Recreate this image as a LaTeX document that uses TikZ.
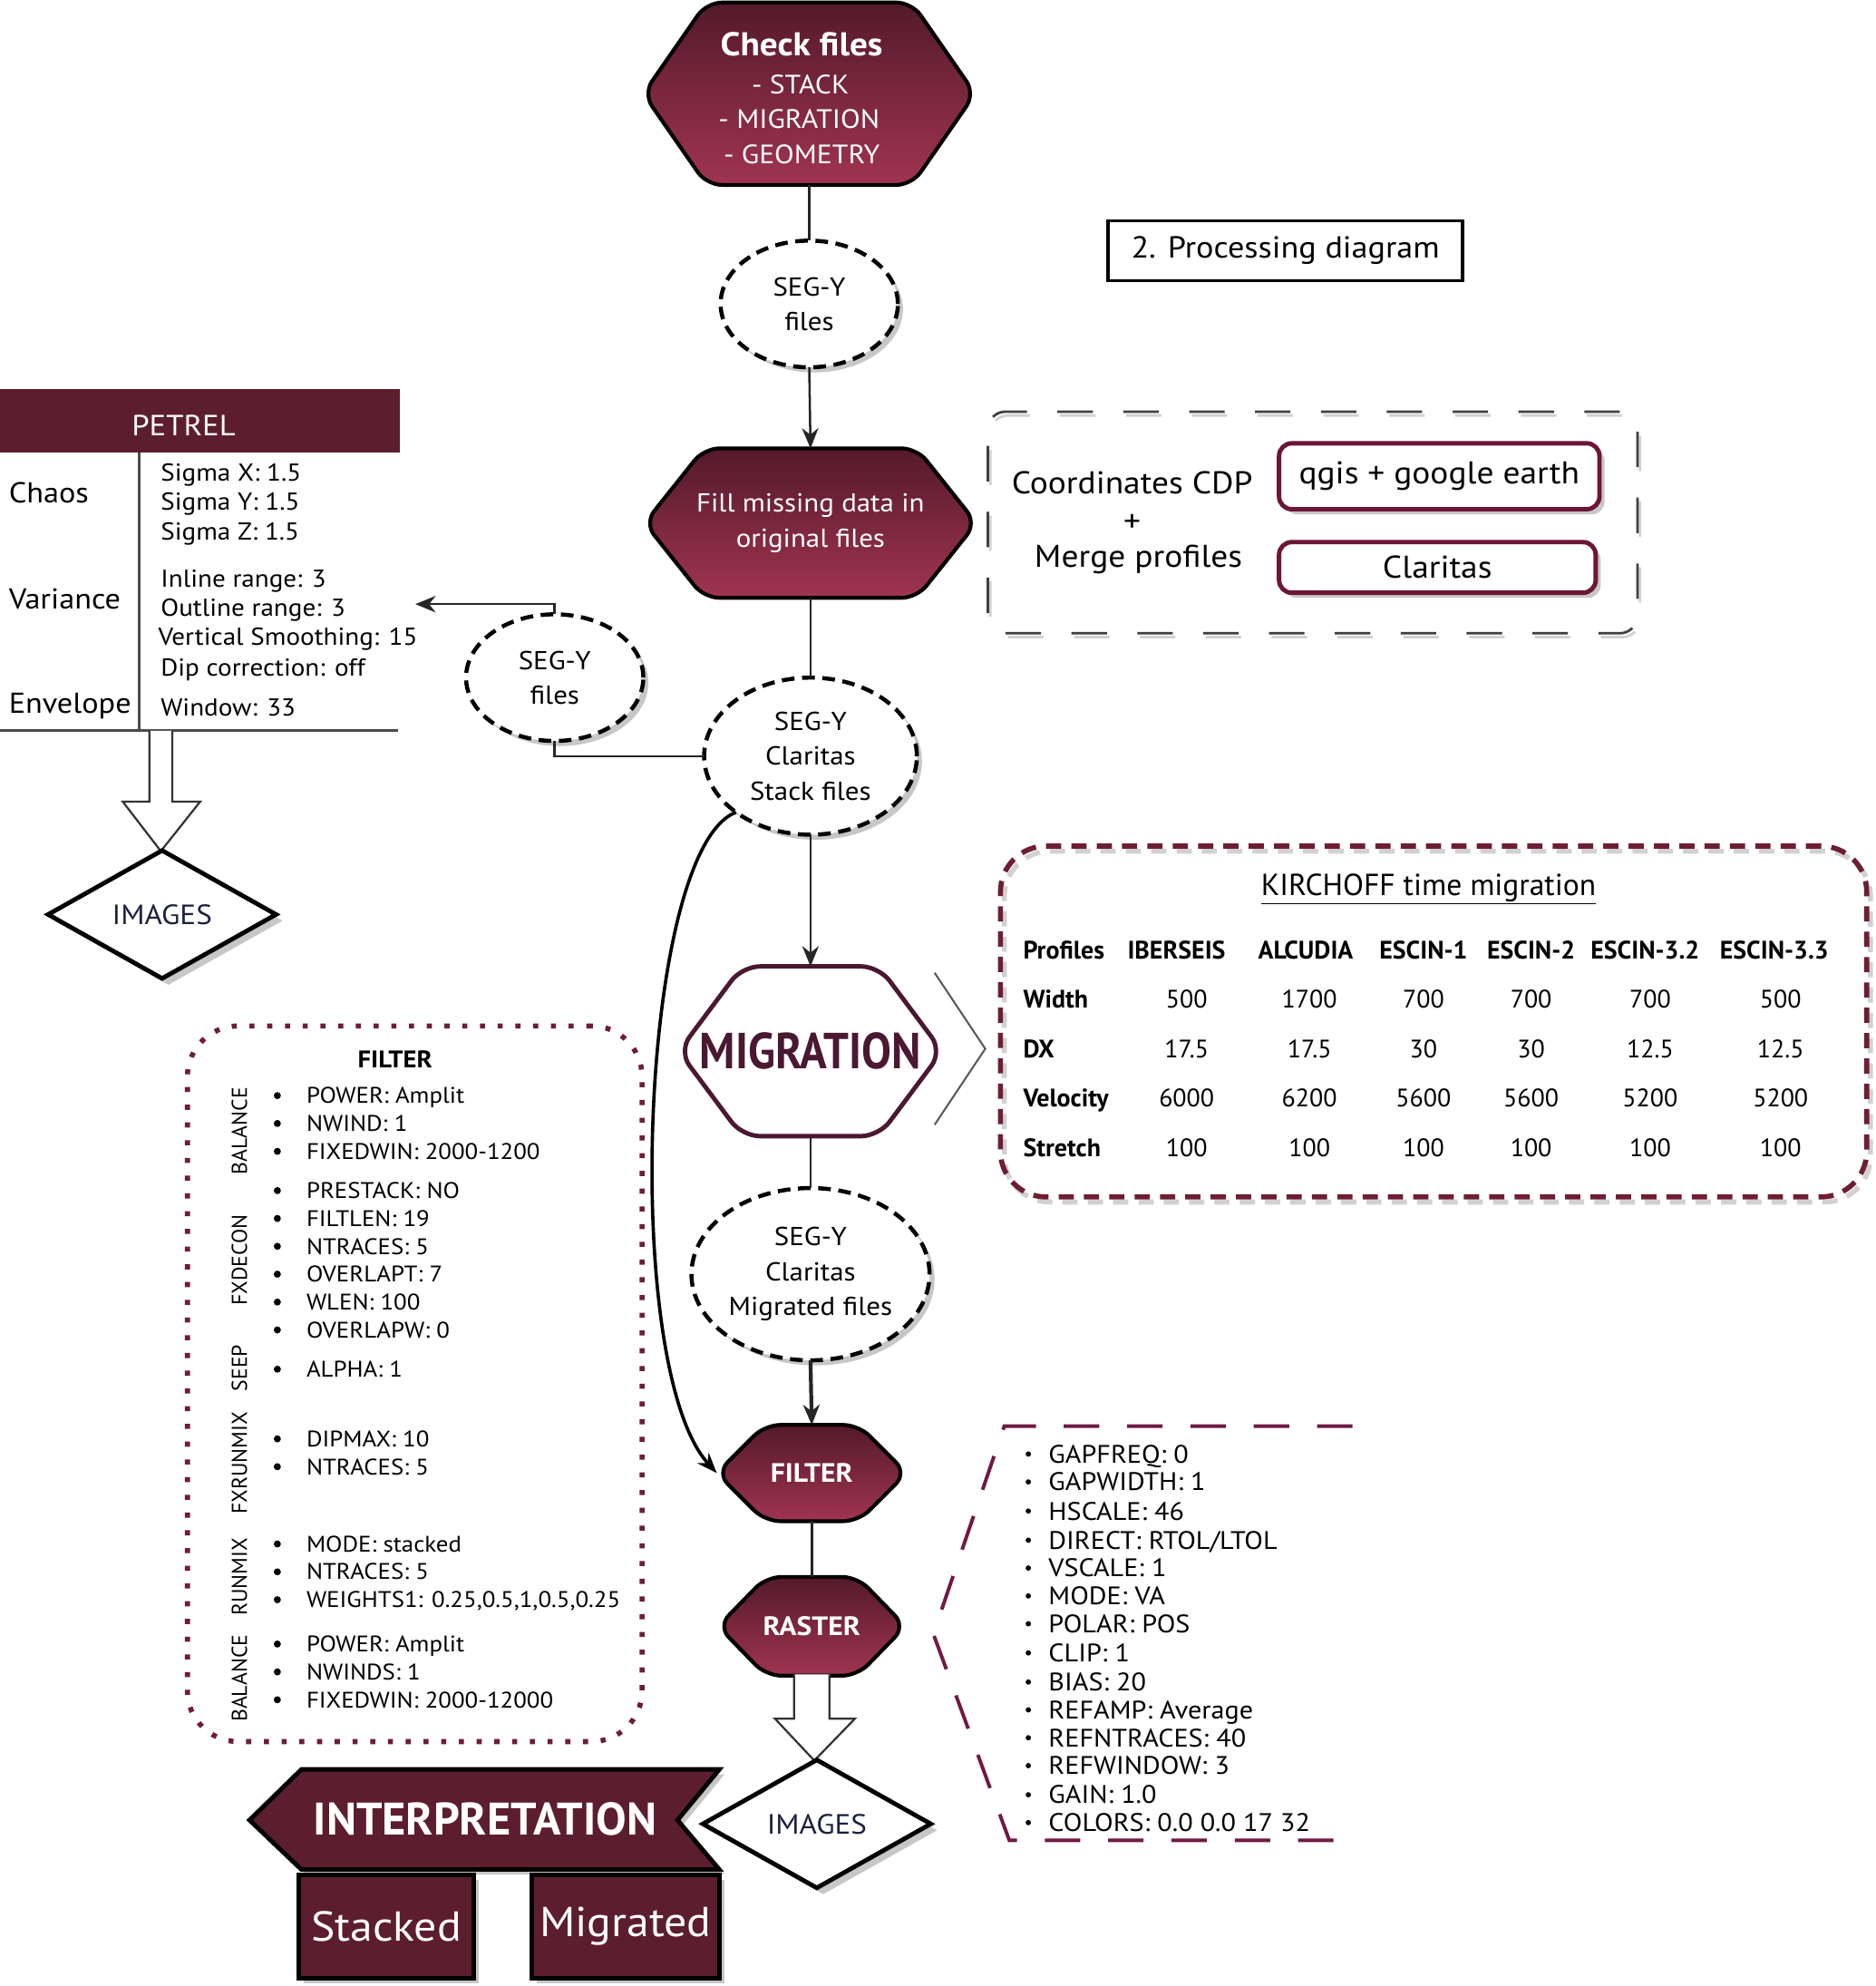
\documentclass[tikz,border=0pt]{standalone}
\usepackage{fontspec}
\setmainfont[FakeStretch=1.08]{PT Sans}
\newfontfamily\plainf{PT Sans}
\newfontfamily\condx[FakeStretch=0.88]{PT Sans}
\usetikzlibrary{shapes.geometric,arrows.meta,backgrounds,calc,shadows}
\definecolor{dmaroon}{RGB}{92,30,46}
\definecolor{hextop}{RGB}{84,26,42}
\definecolor{hexbot}{RGB}{160,52,80}
\definecolor{migcol}{RGB}{74,24,50}
\definecolor{boxcol}{RGB}{107,22,55}
\definecolor{dashcol}{RGB}{110,30,50}
\definecolor{dashcolb}{RGB}{112,26,68}
\definecolor{navy}{RGB}{28,33,62}
\newcommand\fsz[1]{\fontsize{#1}{#1}\selectfont}
\newcommand\fsb[2]{\fontsize{#1}{#2}\selectfont}
\newcommand\hexdraw[3]{%
  \begin{pgfonlayer}{background}
  \draw[#3] (#1.north) -- ($(#1.north east)+(-#2,0)$) -- (#1.east) -- ($(#1.south east)+(-#2,0)$) -- ($(#1.south west)+(#2,0)$) -- (#1.west) -- ($(#1.north west)+(#2,0)$) -- cycle;
  \end{pgfonlayer}}
\begin{document}
\begin{tikzpicture}[x=1pt,y=-1pt,
  every node/.style={inner sep=0pt,outer sep=0pt},
  conn/.style={draw=black!85, line width=1.8pt},
  arr/.style={conn, -{Stealth[length=16pt,width=13pt]}},
  softshadow/.style={general shadow={fill=black!22, draw=none, shadow xshift=4pt, shadow yshift=-4pt}},
  seg/.style={ellipse, draw=black, fill=white, line width=3.2pt, dash pattern=on 10pt off 6pt, align=center, font=\fsb{20.5}{27.5}, softshadow},
  hexn/.style={rectangle, align=center},
  hexfill/.style={draw=black, line width=3pt, top color=hextop, bottom color=hexbot, rounded corners=12pt},
  plist/.style={anchor=base west, font=\fsz{19.3}},
  flist/.style={anchor=base west, font=\fsz{17.8}},
  rlist/.style={anchor=base west, font=\fsz{20}},
  rotl/.style={rotate=90, font=\plainf\fsz{17}},
  kcell/.style={anchor=base, font=\plainf\fsz{20}},
  khead/.style={anchor=base, font=\plainf\fsz{20}\bfseries},
  diam/.style={diamond, draw=black, line width=3.5pt, fill=white, minimum width=180pt, minimum height=101pt, font=\fsz{22}, text=navy, general shadow={fill=black!22, draw=none, shadow xshift=5pt, shadow yshift=-5pt}},
  hollow/.style={fill=white, draw=black!80, line width=1.6pt, line join=miter},
  mbox/.style={fill=dmaroon, draw=black, line width=3.5pt, text=white, font=\fsz{33}, softshadow}
]
\begin{pgfonlayer}{background}
\fill[white] (0,0) rectangle (1481,1568);
\end{pgfonlayer}
\useasboundingbox (0,0) rectangle (1481,1568);

% ---------------- main column ----------------
\node[hexn, minimum width=262pt, minimum height=144pt] (check) at (639,74) {};
\hexdraw{check}{50}{hexfill}
\node[anchor=base, font=\fsz{26}\bfseries, text=white] (ck1) at (633,44) {Check files};
\node[anchor=base, font=\fsz{21}, text=white] (ck2) at (632,74) {- STACK};
\node[anchor=base, font=\fsz{21}, text=white] (ck3) at (631,101.5) {- MIGRATION};
\node[anchor=base, font=\fsz{21}, text=white] (ck4) at (633,129) {- GEOMETRY};

\node[seg, minimum width=140pt, minimum height=100pt] (e1) at (639,240) {SEG-Y\\files};

\node[hexn, minimum width=262pt, minimum height=118pt, text=white, font=\fsb{20.5}{28}] (fill) at (640,413) {Fill missing data in\\original files};
\hexdraw{fill}{47}{hexfill}

\node[seg, minimum width=168pt, minimum height=124pt] (e3) at (640,597) {SEG-Y\\Claritas\\Stack files};
\node[seg, minimum width=140pt, minimum height=100pt] (e2) at (438,535) {SEG-Y\\files};

\node[hexn, minimum width=208pt, minimum height=134pt, text=migcol, font=\condx\fsz{40}\bfseries] (migr) at (640,830) {MIGRATION};
\hexdraw{migr}{50}{draw=migcol, fill=white, line width=3.5pt, rounded corners=14pt}

\node[seg, minimum width=188pt, minimum height=136pt] (e4) at (640,1006) {SEG-Y\\Claritas\\Migrated files};

\node[hexn, minimum width=150pt, minimum height=76pt, text=white, font=\fsz{21}\bfseries] (filt) at (641,1163) {FILTER};
\hexdraw{filt}{38}{hexfill}
\node[hexn, minimum width=148pt, minimum height=78pt, text=white, font=\fsz{21}\bfseries] (rast) at (641,1284) {RASTER};
\hexdraw{rast}{38}{hexfill}

% connectors
\draw[conn] (check.south) -- (e1.north);
\draw[arr] (e1.south) -- (fill.north);
\draw[conn] (fill.south) -- (e3.north);
\draw[arr] (e3.south) -- (migr.north);
\draw[conn] (migr.south) -- (e4.north);
\draw[arr, line width=3pt] (e4.south) -- (filt.north);
\draw[conn] (filt.south) -- (rast.north);
\draw[conn] (e3.west) -| (e2.south);
\coordinate (petarr) at (328,477);
\draw[arr] (e2.north) |- (petarr);
\draw[black, line width=2.6pt, -{Stealth[length=16pt,width=12pt]}] (e3.217) .. controls (505,670) and (490,1080) .. (filt.west);

% chevron next to migration
\draw[black!65, line width=1.5pt] (738,768) -- (778,828) -- (738,888);

% ---------------- title ----------------
\node[draw=black, line width=2.5pt, minimum width=280pt, minimum height=47pt, font=\fsz{24}] (title) at (1015,198) {2. Processing diagram};

% ---------------- coordinates box ----------------
\node[draw=black!75, line width=2pt, dash pattern=on 28pt off 24pt, rounded corners=14pt, minimum width=513pt, minimum height=175pt, general shadow={draw=black!18, fill=none, shadow xshift=2pt, shadow yshift=-3pt}] (cbox) at (1036.5,412.5) {};
\node[font=\fsz{24.8}] (coord) at (894,381) {Coordinates CDP};
\node[font=\fsz{24.8}] (plus) at (894,413) {+};
\node[font=\fsz{24.8}] (merge) at (899,442) {Merge profiles};
\node[draw=boxcol, line width=3.5pt, rounded corners=10pt, fill=white, minimum width=253pt, minimum height=52pt, font=\fsz{24.8}, softshadow] (qgis) at (1136.5,376) {qgis + google earth};
\node[draw=boxcol, line width=3.5pt, rounded corners=10pt, fill=white, minimum width=250pt, minimum height=40pt, font=\fsz{24.8}, softshadow] (clar) at (1135,448) {Claritas};

% ---------------- Kirchhoff table ----------------
\node[draw=dashcol, line width=4pt, dash pattern=on 12pt off 8pt, rounded corners=36pt, minimum width=684pt, minimum height=277pt, general shadow={draw=black!18, fill=none, shadow xshift=3pt, shadow yshift=-4pt}] (kbox) at (1132,806.5) {};
\node[font=\plainf\fsz{24}] (ktitle) at (1128,702) {\underline{KIRCHOFF time migration}};
\node[anchor=base west, font=\plainf\fsz{20}\bfseries] (kprof) at (808,757) {Profiles};
\foreach \hx/\hlab [count=\i] in {929/IBERSEIS, 1031/ALCUDIA, 1124/ESCIN-1, 1209/ESCIN-2, 1299/ESCIN-3.2, 1401/ESCIN-3.3}
  \node[khead] (kh\i) at (\hx,757) {\hlab};
\foreach \ry/\rlab/\va/\vb/\vc/\vd/\ve/\vff [count=\rr] in {789/Width/500/1700/700/700/700/500, 828/DX/17.5/17.5/30/30/12.5/12.5, 867/Velocity/6000/6200/5600/5600/5200/5200, 906/Stretch/100/100/100/100/100/100} {
  \node[anchor=base west, font=\plainf\fsz{20}\bfseries] (kl\rr) at (808,\ry+7) {\rlab};
  \node[kcell] (kva\rr) at (937,\ry+7) {\va};
  \node[kcell] (kvb\rr) at (1034,\ry+7) {\vb};
  \node[kcell] (kvc\rr) at (1124,\ry+7) {\vc};
  \node[kcell] (kvd\rr) at (1209,\ry+7) {\vd};
  \node[kcell] (kve\rr) at (1303,\ry+7) {\ve};
  \node[kcell] (kvf\rr) at (1406,\ry+7) {\vff};
}

% ---------------- PETREL ----------------
\node[fill=dmaroon, minimum width=316pt, minimum height=50pt, anchor=north west] (petrel) at (0,307) {};
\node[text=white, font=\fsz{23}] (petreltxt) at (145,336) {PETREL};
\draw[black!70, line width=2pt] (110,357) -- (110,577);
\draw[black!70, line width=2pt] (0,577) -- (314,577);
\node[anchor=base west, font=\fsz{22.7}] (chaos) at (7,397) {Chaos};
\node[anchor=base west, font=\fsz{22.7}] (variance) at (7,481) {Variance};
\node[anchor=base west, font=\fsz{22.7}] (envelope) at (7,563) {Envelope};
\foreach \ty/\tx [count=\i] in {373/Sigma X: 1.5, 396/Sigma Y: 1.5, 420/Sigma Z: 1.5, 457/Inline range: 3, 480/Outline range: 3, 527/Dip correction: off, 559/Window: 33}
  \node[plist] (pl\i) at (127,\ty+6.5) {\tx};
\node[plist] (plv) at (125,509.5) {Vertical Smoothing: 15};
\draw[hollow] (118,577) -- (118,633) -- (97,633) -- (127,672) -- (158,633) -- (136,633) -- (136,577);
\node[diam] (img1) at (128,722) {IMAGES};

% ---------------- FILTER box ----------------
\node[draw=dashcol, line width=4pt, dash pattern=on 4pt off 10pt, rounded corners=40pt, minimum width=359pt, minimum height=565pt] (fbox) at (327.5,1092.5) {};
\node[font=\fsz{19}\bfseries] (ftitle) at (312,836) {FILTER};
\foreach \ty/\flab [count=\i] in {893/BALANCE, 995/FXDECON, 1080/SEEP, 1155/FXRUNMIX, 1245/RUNMIX, 1325/BALANCE}
  \node[rotl] (fl\i) at (189,\ty) {\flab};
\foreach \ty/\tx [count=\i] in {865/POWER: Amplit, 887/NWIND: 1, 909/FIXEDWIN: 2000-1200, 940/PRESTACK: NO, 962/FILTLEN: 19, 984/NTRACES: 5, 1006/OVERLAPT: 7, 1028/WLEN: 100, 1050/OVERLAPW: 0, 1081/ALPHA: 1, 1136/DIPMAX: 10, 1158/NTRACES: 5, 1219/MODE: stacked, 1241/NTRACES: 5, 1263/{WEIGHTS1: 0.25,0.5,1,0.5,0.25}, 1298/POWER: Amplit, 1320/NWINDS: 1, 1342/FIXEDWIN: 2000-12000} {
  \fill (219,\ty) circle (2.8pt);
  \node[flist] (fi\i) at (242,\ty+6.2) {\tx};
}

% ---------------- RASTER list ----------------
\draw[dashcolb, line width=2.8pt, dash pattern=on 28pt off 22pt] (1068,1126) -- (793,1126) -- (737,1290) -- (797,1453) -- (1062,1453);
\foreach \ty/\tx [count=\i] in {1148/GAPFREQ: 0, 1170/GAPWIDTH: 1, 1193/HSCALE: 46, 1216/{DIRECT: RTOL/LTOL}, 1238/VSCALE: 1, 1260/MODE: VA, 1282/POLAR: POS, 1305/CLIP: 1, 1328/BIAS: 20, 1350/REFAMP: Average, 1372/REFNTRACES: 40, 1394/REFWINDOW: 3, 1417/GAIN: 1.0, 1439/COLORS: 0.0 0.0 17 32} {
  \fill (812,\ty) circle (2.1pt);
  \node[rlist] (ri\i) at (828,\ty+7) {\tx};
}

% ---------------- bottom ----------------
\draw[hollow] (627,1322) -- (627,1357) -- (612,1357) -- (643,1390) -- (675,1357) -- (655,1357) -- (655,1322);
\node[diam] (img2) at (645,1440) {IMAGES};
\draw[fill=dmaroon, draw=black, line width=3.5pt, line join=miter, softshadow] (197,1437) -- (238,1397) -- (568,1397) -- (535,1437) -- (568,1476) -- (238,1476) -- cycle;
\node[text=white, font=\plainf\fsz{36}\bfseries] (interp) at (383,1436) {INTERPRETATION};
\node[mbox, minimum width=138pt, minimum height=82pt] (stacked) at (305,1521) {Stacked};
\node[mbox, minimum width=148pt, minimum height=82pt] (migrated) at (494,1521) {Migrated};
\end{tikzpicture}
\end{document}
